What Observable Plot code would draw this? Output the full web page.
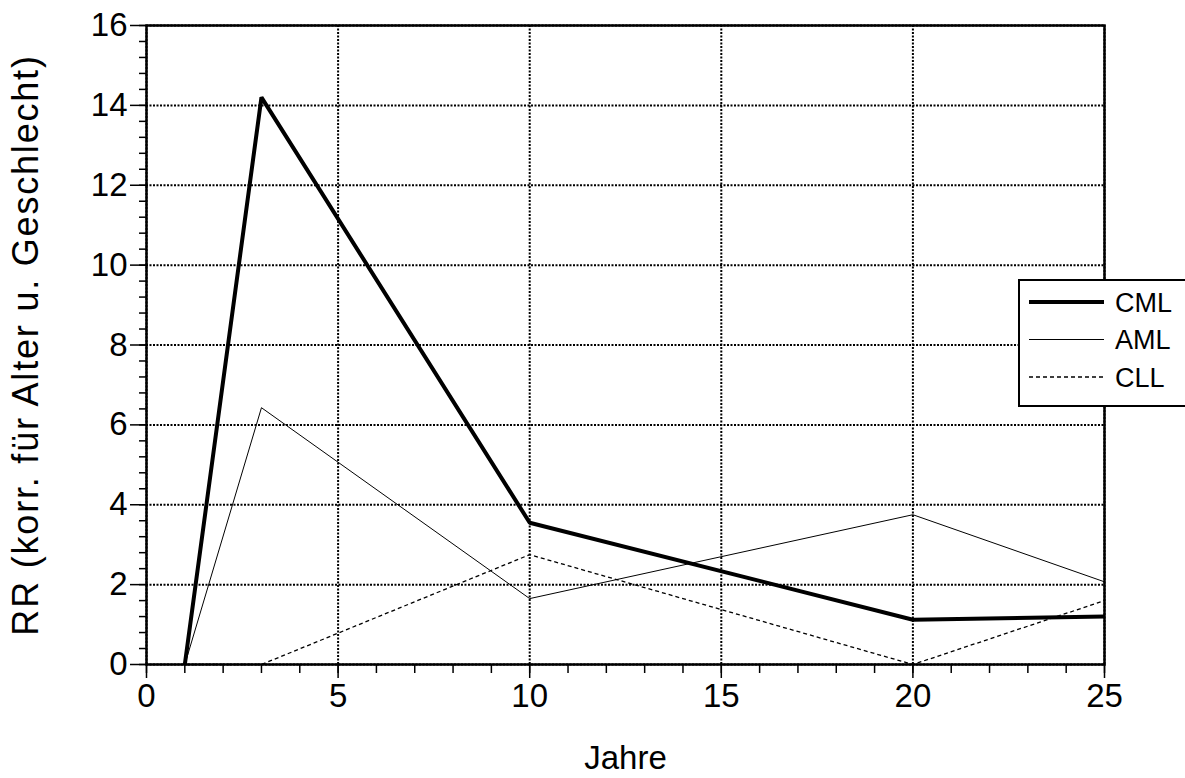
<!DOCTYPE html>
<html>
<head>
<meta charset="utf-8">
<script src="https://cdn.jsdelivr.net/npm/d3@7"></script>
<script src="https://cdn.jsdelivr.net/npm/@observablehq/plot@0.6"></script>
<style>
  html, body { margin: 0; padding: 0; background: #fff; overflow: hidden; }
  #wrap { position: relative; width: 1185px; height: 778px; font-family: "Liberation Sans", Arial, Helvetica, sans-serif; }
  #legend { position: absolute; left: 1018px; top: 279px; width: 200px; height: 128px; background: #fff; border: 2.5px solid #000; box-sizing: border-box; }
</style>
</head>
<body>
<div id="wrap"></div>
<script>
// ---- data ----
const years = [1, 3, 10, 20, 25];
const cml = [0, 14.2, 3.55, 1.12, 1.2];
const aml = [0, 6.43, 1.65, 3.75, 2.07];
const cll = [0, 0, 2.75, 0, 1.6];
const seriesNames = ["CML", "AML", "CLL"];
const xMajorTicks = [0, 5, 10, 15, 20, 25];
const xMinorTicks = d3.range(0, 26, 1);
const yMajorTicks = [0, 2, 4, 6, 8, 10, 12, 14, 16];
const yMinorTicks = d3.range(0, 41, 1).map(d => d * 0.4);
const xLabel = "Jahre";
const yLabel = "RR (korr. für Alter u. Geschlecht)";

const styles = {
  CML: {strokeWidth: 4, dash: null},
  AML: {strokeWidth: 1, dash: null},
  CLL: {strokeWidth: 1.3, dash: "4,3"}
};
const valuesBySeries = {CML: cml, AML: aml, CLL: cll};
const rows = seriesNames.flatMap(s => years.map((x, i) => ({series: s, x, y: valuesBySeries[s][i]})));

const font = "\"Liberation Sans\", Arial, Helvetica, sans-serif";

const chart = Plot.plot({
  width: 1185,
  height: 778,
  marginLeft: 146,
  marginRight: 81,
  marginTop: 25,
  marginBottom: 114,
  style: {fontFamily: font, background: "#fff", color: "#000"},
  x: {domain: [0, 25]},
  y: {domain: [0, 16]},
  marks: [
    Plot.gridX(xMajorTicks, {stroke: "#000", strokeOpacity: 1, strokeWidth: 2, strokeDasharray: "2,1.5"}),
    Plot.gridY(yMajorTicks, {stroke: "#000", strokeOpacity: 1, strokeWidth: 2, strokeDasharray: "2,1.5"}),
    ...seriesNames.map(s => Plot.line(rows.filter(r => r.series === s), {
      x: "x", y: "y", stroke: "#000", strokeWidth: styles[s].strokeWidth,
      strokeDasharray: styles[s].dash, strokeLinejoin: "miter", strokeLinecap: "butt"
    })),
    Plot.frame({stroke: "#000", strokeWidth: 2.5}),
    Plot.axisX(xMinorTicks, {tickSize: 9, text: null, label: null, strokeWidth: 1.5}),
    Plot.axisX(xMajorTicks, {tickSize: 14, tickPadding: 5, fontSize: 33, strokeWidth: 1.5,
      label: xLabel, labelAnchor: "center", labelOffset: 104, labelArrow: "none"}),
    Plot.axisY(yMinorTicks, {tickSize: 7, text: null, label: null, strokeWidth: 1.5}),
    Plot.axisY(yMajorTicks, {tickSize: 16, tickPadding: 3, fontSize: 33, strokeWidth: 1.5,
      label: yLabel, labelAnchor: "center", labelOffset: 134, labelArrow: "none"})
  ]
});
document.getElementById("wrap").appendChild(chart);

// axis label font sizes
d3.select(chart).selectAll("g[aria-label='x-axis label'] text").style("font-size", "33px");
d3.select(chart).selectAll("g[aria-label='y-axis label'] text")
  .style("font-size", "36px").style("letter-spacing", "1.8px");

// ---- legend ----
const legend = d3.select("#wrap").append("div").attr("id", "legend");
const lsvg = legend.append("svg").attr("width", 200).attr("height", 124)
  .style("position", "absolute").style("left", "-2.5px").style("top", "-2.5px");
seriesNames.forEach((s, i) => {
  const cy = 23 + i * 37.5;
  lsvg.append("line").attr("x1", 11).attr("x2", 86).attr("y1", cy).attr("y2", cy)
    .attr("stroke", "#000").attr("stroke-width", styles[s].strokeWidth)
    .attr("stroke-dasharray", styles[s].dash);
  lsvg.append("text").attr("x", 97).attr("y", cy).attr("dy", "0.36em")
    .style("font-family", font).style("font-size", "27px").text(s);
});
</script>
</body>
</html>
